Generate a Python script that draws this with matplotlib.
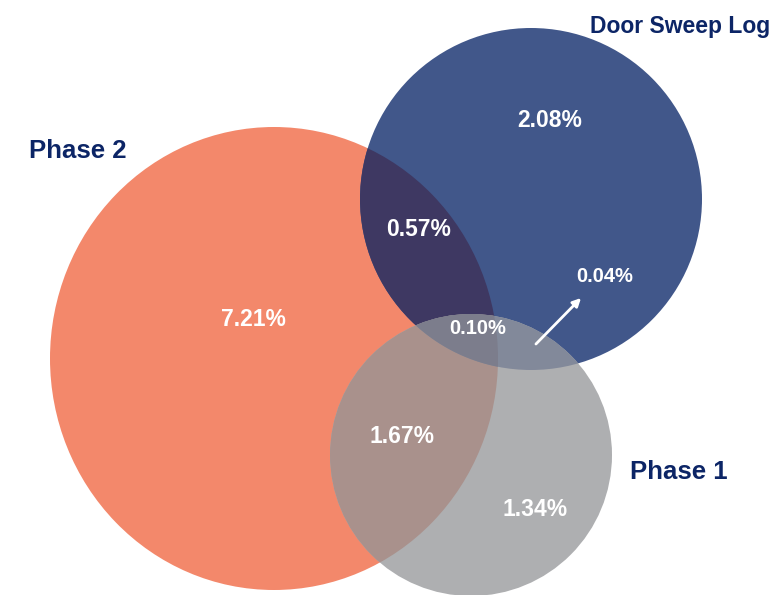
import numpy as np
import matplotlib
matplotlib.use('Agg')
import matplotlib.pyplot as plt
from matplotlib.patches import Ellipse, Circle, Polygon, FancyArrowPatch

plt.rcParams['font.family'] = ['Liberation Sans', 'DejaVu Sans']

# 数据
set_names = ['Phase 2', 'Door Sweep Log', 'Phase 1']
region_names = ['Phase 2 only', 'Door Sweep Log only', 'Phase 1 only',
                'Phase 2 & Door Sweep Log', 'Phase 2 & Phase 1',
                'All three', 'Door Sweep Log & Phase 1']
region_values = [7.21, 2.08, 1.34, 0.57, 1.67, 0.10, 0.04]

# 颜色
c_orange = '#F3886B'
c_navy = '#41578A'
c_gray = '#AEAFB1'
c_orange_navy = '#3E3862'
c_orange_gray = '#A9918C'
c_navy_gray = '#82899A'
c_all = '#7C7D8C'
c_title = '#0C2566'

# 圆的位置 (像素坐标)
orange_c, orange_w, orange_h = (274, 358.5), 448, 463
navy_c, navy_r = (531, 199), 171
gray_c, gray_r = (471, 455), 141


def lens(c1, r1, c2, r2, n=200):
    # 两圆交集的多边形
    c1, c2 = np.array(c1, float), np.array(c2, float)
    d = np.linalg.norm(c2 - c1)
    phi = np.arctan2(c2[1] - c1[1], c2[0] - c1[0])
    t1 = np.arccos((d**2 + r1**2 - r2**2) / (2 * d * r1))
    t2 = np.arccos((d**2 + r2**2 - r1**2) / (2 * d * r2))
    a1 = phi + np.linspace(-t1, t1, n)
    a2 = phi + np.pi + np.linspace(-t2, t2, n)
    p1 = np.column_stack([c1[0] + r1 * np.cos(a1), c1[1] + r1 * np.sin(a1)])
    p2 = np.column_stack([c2[0] + r2 * np.cos(a2), c2[1] + r2 * np.sin(a2)])
    return np.vstack([p1, p2])


fig = plt.figure(figsize=(7.78, 5.95), dpi=100)
ax = fig.add_axes([0, 0, 1, 1])
ax.set_xlim(0, 778)
ax.set_ylim(595, 0)
ax.set_aspect('equal')
ax.axis('off')

orange = Ellipse(orange_c, orange_w, orange_h, color=c_orange, lw=0)
navy = Circle(navy_c, navy_r, color=c_navy, lw=0)
gray = Circle(gray_c, gray_r, color=c_gray, lw=0)
for p in (orange, navy, gray):
    ax.add_patch(p)

# 重叠区域
p = ax.add_patch(Circle(navy_c, navy_r, color=c_orange_navy, lw=0))
p.set_clip_path(orange)
p = ax.add_patch(Circle(gray_c, gray_r, color=c_orange_gray, lw=0))
p.set_clip_path(orange)
p = ax.add_patch(Circle(gray_c, gray_r, color=c_navy_gray, lw=0))
p.set_clip_path(navy)
lens_patch = Polygon(lens(navy_c, navy_r, gray_c, gray_r), closed=True,
                     transform=ax.transData, visible=False)
ax.add_patch(lens_patch)
p = ax.add_patch(Ellipse(orange_c, orange_w, orange_h, color=c_all, lw=0))
p.set_clip_path(lens_patch.get_path(), ax.transData)

# 百分比标签
label_xy = [(253, 326), (550, 127), (535, 516), (419, 236), (402, 443), (478, 334), (605, 282)]
label_size = [16.5, 16.5, 16.5, 16.5, 16.5, 14.5, 14.5]
for v, (x, y), s in zip(region_values, label_xy, label_size):
    ax.text(x, y, f'{v:.2f}%', color='white', fontsize=s, fontweight='bold',
            ha='center', va='baseline')

ax.add_patch(FancyArrowPatch((534, 346), (583, 296), arrowstyle='-|>',
                             mutation_scale=12, color='white', lw=2))

# 集合名称
ax.text(29, 158, set_names[0], color=c_title, fontsize=18.5, fontweight='bold', ha='left', va='baseline')
ax.text(770, 33, set_names[1], color=c_title, fontsize=16.5, fontweight='bold', ha='right', va='baseline')
ax.text(630, 479, set_names[2], color=c_title, fontsize=18.5, fontweight='bold', ha='left', va='baseline')

plt.savefig('out.png', dpi=100)
